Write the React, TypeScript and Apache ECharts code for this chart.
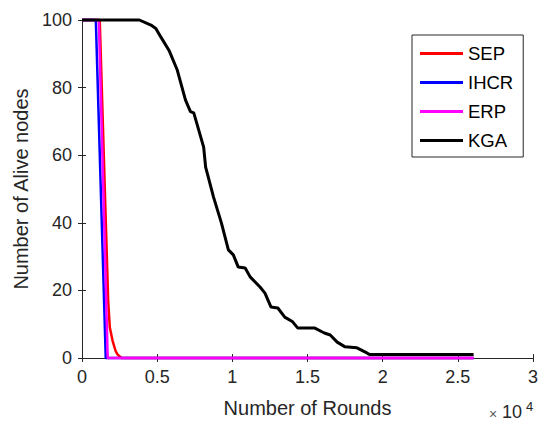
import React, { useEffect, useRef } from "react";
import * as echarts from "echarts";

const seriesNames = ["SEP", "IHCR", "ERP", "KGA"];
const seriesColors = ["#ff0000", "#0000ff", "#ff00ff", "#000000"];

const sepData: number[][] = [
  [0, 100], [1180, 100], [1740, 17], [1850, 9], [2040, 5], [2240, 2], [2370, 1], [2630, 0], [26050, 0],
];
const ihcrData: number[][] = [
  [0, 100], [920, 100], [1580, 0], [26050, 0],
];
const erpData: number[][] = [
  [0, 100], [1120, 100], [1710, 0], [26050, 0],
];
const kgaData: number[][] = [
  [0, 100], [3816, 100], [4586, 98.5], [4912, 97.5], [5240, 95], [5790, 91], [6336, 85.2],
  [6886, 76.3], [7214, 72.9], [7434, 72.5], [7632, 69.5], [8092, 62.4], [8224, 56.5],
  [8750, 47.6], [9276, 39.9], [9737, 32], [10066, 30.5], [10395, 26.9], [10855, 26.6],
  [11184, 24], [11842, 21], [12171, 19.2], [12566, 15.1], [13026, 14.8], [13487, 12.1],
  [14013, 10.7], [14342, 8.9], [15461, 8.9], [16118, 7.4], [16513, 6.8], [16974, 4.7],
  [17500, 3.3], [18289, 3], [18947, 1.5], [19145, 1], [26050, 1],
];

const xTicks = { min: 0, max: 30000, interval: 5000 };
const yTicks = { min: 0, max: 100, interval: 20 };

const FONT = "'Liberation Sans', Arial, Helvetica, sans-serif";
const AX = "#262626";

export default function App() {
  const ref = useRef<HTMLDivElement>(null);
  useEffect(() => {
    if (!ref.current) return;
    const chart = echarts.init(ref.current, undefined, { renderer: "svg" });
    const datas = [sepData, ihcrData, erpData, kgaData];
    const widths = [2.5, 2.5, 2.5, 3];
    const boxAxis = {
      axisLine: { show: true, lineStyle: { color: AX, width: 1 } },
      axisTick: { show: true, inside: true, length: 4, lineStyle: { color: AX } },
      axisLabel: { show: false },
      splitLine: { show: false },
    };
    chart.setOption({
      animation: false,
      backgroundColor: "#ffffff",
      grid: { left: 82, right: 4, top: 20, bottom: 66, containLabel: false },
      legend: {
        orient: "vertical",
        left: 412,
        top: 35,
        padding: [9, 10, 7, 8],
        borderColor: AX,
        borderWidth: 1,
        backgroundColor: "#ffffff",
        itemWidth: 43,
        itemHeight: 3,
        itemGap: 10,
        icon: "rect",
        textStyle: { fontFamily: FONT, fontSize: 18.5, color: "#000000" },
        data: seriesNames,
      },
      xAxis: [
        {
          type: "value",
          min: xTicks.min,
          max: xTicks.max,
          interval: xTicks.interval,
          name: "Number of Rounds",
          nameLocation: "middle",
          nameGap: 40,
          nameTextStyle: { fontFamily: FONT, fontSize: 20, color: AX },
          axisLine: { show: true, onZero: false, lineStyle: { color: AX, width: 1 } },
          axisTick: { show: true, inside: true, length: 4, lineStyle: { color: AX } },
          axisLabel: {
            fontFamily: FONT,
            fontSize: 18,
            color: AX,
            margin: 10,
            formatter: (v: number) => String(v / 10000),
          },
          splitLine: { show: false },
        },
        {
          type: "value",
          position: "top",
          min: xTicks.min,
          max: xTicks.max,
          interval: xTicks.interval,
          ...boxAxis,
        },
      ],
      yAxis: [
        {
          type: "value",
          min: yTicks.min,
          max: yTicks.max,
          interval: yTicks.interval,
          name: "Number of Alive nodes",
          nameLocation: "middle",
          nameGap: 50,
          nameTextStyle: { fontFamily: FONT, fontSize: 20, color: AX },
          axisLine: { show: true, onZero: false, lineStyle: { color: AX, width: 1 } },
          axisTick: { show: true, inside: true, length: 4, lineStyle: { color: AX } },
          axisLabel: { fontFamily: FONT, fontSize: 18, color: AX, margin: 10 },
          splitLine: { show: false },
        },
        {
          type: "value",
          position: "right",
          min: yTicks.min,
          max: yTicks.max,
          interval: yTicks.interval,
          ...boxAxis,
        },
      ],
      graphic: [
        {
          type: "text",
          left: 489,
          top: 407,
          style: { text: "×", fontFamily: FONT, fontSize: 14, fill: "#5a5a5a" },
        },
        {
          type: "text",
          left: 502,
          top: 403,
          style: { text: "10", fontFamily: FONT, fontSize: 18, fill: AX },
        },
        {
          type: "text",
          left: 526,
          top: 400,
          style: { text: "4", fontFamily: FONT, fontSize: 13, fill: AX },
        },
      ],
      series: seriesNames.map((n, i) => ({
        name: n,
        type: "line",
        data: datas[i],
        showSymbol: false,
        symbol: "none",
        clip: false,
        color: seriesColors[i],
        lineStyle: { color: seriesColors[i], width: widths[i] },
        z: 2 + i,
      })),
    });
    return () => chart.dispose();
  }, []);
  return <div ref={ref} style={{ width: 541, height: 424, position: "absolute", left: 0, top: 0 }} />;
}
